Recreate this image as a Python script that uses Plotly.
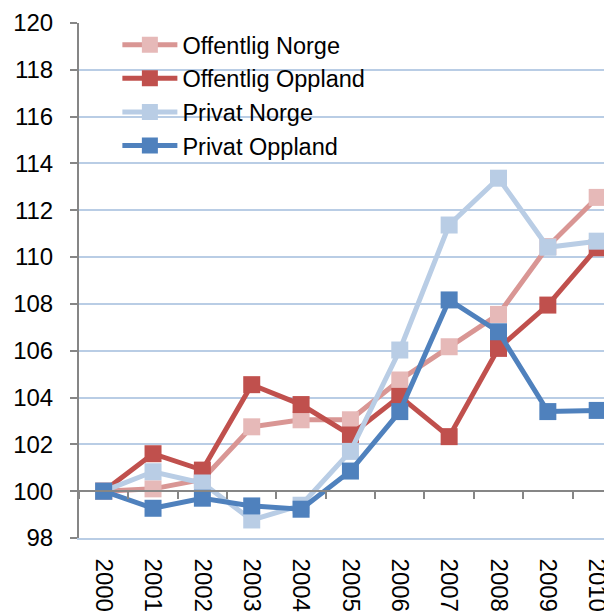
import plotly.graph_objects as go

years = ["2000", "2001", "2002", "2003", "2004", "2005", "2006", "2007", "2008", "2009", "2010"]
offentlig_norge = [100.0, 100.1, 100.5, 102.75, 103.05, 103.05, 104.75, 106.17, 107.55, 110.45, 112.55]
offentlig_oppland = [100.0, 101.6, 100.9, 104.55, 103.7, 102.4, 104.05, 102.33, 106.1, 107.95, 110.4]
privat_norge = [100.0, 100.83, 100.35, 98.77, 99.4, 101.7, 106.03, 111.37, 113.37, 110.42, 110.68]
privat_oppland = [100.0, 99.27, 99.7, 99.37, 99.23, 100.86, 103.4, 108.17, 106.81, 103.4, 103.45]

series = [
    ("Offentlig Norge", offentlig_norge, "#D99694", "#E6B9B8"),
    ("Offentlig Oppland", offentlig_oppland, "#C0504D", "#C0504D"),
    ("Privat Norge", privat_norge, "#B9CDE5", "#B9CDE5"),
    ("Privat Oppland", privat_oppland, "#4F81BD", "#4F81BD"),
]

FONT = "Liberation Sans, Arial, sans-serif"
fig = go.Figure()
for name, vals, lc, mc in series:
    fig.add_trace(go.Scatter(
        x=years, y=vals, name=name, mode="lines+markers",
        line=dict(color=lc, width=5),
        marker=dict(symbol="square", size=17, color=mc),
    ))

# axis crossing line at y=100 with tick marks between categories
fig.add_trace(go.Scatter(x=years, y=[None]*len(years), xaxis="x2", showlegend=False, hoverinfo="skip"))

ymin, ymax = 98, 120
fig.update_layout(
    width=612, height=612,
    margin=dict(l=71, r=8, t=15, b=82),
    paper_bgcolor="white", plot_bgcolor="white",
    font=dict(family=FONT, size=24, color="black"),
    showlegend=True,
    legend=dict(x=0.072, y=1.0, xanchor="left", yanchor="top",
                bgcolor="rgba(0,0,0,0)", font=dict(size=23.5, family=FONT),
                itemwidth=55, tracegroupgap=0),
    xaxis=dict(type="category", range=[-0.5, 10.3], showgrid=False, automargin=False,
               showline=True, linecolor="#B9CDE5", linewidth=1.5,
               ticks="", tickangle=90, tickfont=dict(size=24, family=FONT),
               ticklabelstandoff=14),
    xaxis2=dict(type="category", overlaying="x", matches="x", anchor="free",
                position=(100 - ymin) / (ymax - ymin), side="bottom", automargin=False,
                showline=True, linecolor="#868686", linewidth=2,
                ticks="outside", ticklen=7, tickcolor="#868686", tickwidth=1.5,
                tickson="boundaries", showticklabels=False, showgrid=False),
    yaxis=dict(range=[ymin, ymax], dtick=2, tick0=98, showgrid=True, automargin=False,
               gridcolor="#B9CDE5", gridwidth=1.5,
               showline=True, linecolor="#868686", linewidth=2,
               ticks="outside", ticklen=7, tickcolor="#868686", tickwidth=1.5,
               tickfont=dict(size=24, family=FONT), ticklabelstandoff=12,
               zeroline=False),
)

fig.write_html("out.html")
